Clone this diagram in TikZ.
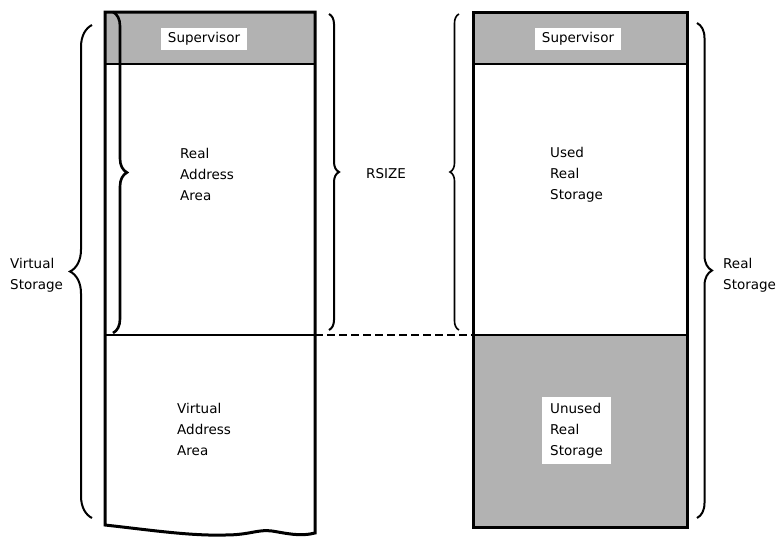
\documentclass[tikz,border=0pt]{standalone}
\usepackage{fontspec}
\setmainfont{DejaVu Sans}
\usetikzlibrary{decorations.pathreplacing}
\begin{document}
\begin{tikzpicture}[x=1pt,y=-1pt,
  box/.style={line width=3pt,line join=miter},
  divider/.style={line width=2.8pt},
  br/.style={decorate,decoration={brace,amplitude=#1,aspect=0.5},line width=2pt},
  lbl/.style={font=\fontsize{13.5}{21}\selectfont,align=left,inner sep=0pt,anchor=north west},
  sup/.style={font=\fontsize{13.5}{16}\selectfont,fill=white,inner xsep=7pt,inner ysep=4.5pt},
  shade/.style={fill=black!30},
  dashline/.style={line width=2.6pt,dash pattern=on 8pt off 4pt}
]
\useasboundingbox (0,0) rectangle (782,536);

% ---- left column (virtual storage)
\fill[shade] (105,12) rectangle (315,64);
\draw[box] (105,12) -- (315,12) -- (315,533)
  .. controls (300,537) and (285,533) .. (272,531)
  .. controls (258,529) and (250,535) .. (225,535)
  .. controls (190,536) and (150,530) .. (105,525) -- cycle;
\draw[divider] (105,64) -- (315,64);
\draw[divider] (105,335) -- (315,335);
\node[sup] (lsup) at (204,39) {Supervisor};

% ---- right column (real storage)
\fill[shade] (473,12) rectangle (687,64);
\fill[shade] (473,335) rectangle (687,527);
\draw[box] (473,12) rectangle (687,527);
\draw[divider] (473,64) -- (687,64);
\draw[divider] (473,335) -- (687,335);
\node[sup] (rsup) at (578,39) {Supervisor};

% ---- dashed boundary link
\coordinate (ldiv) at (315,335);
\coordinate (rdiv) at (473,335);
\draw[dashline] (ldiv) -- (rdiv);

% ---- braces
\draw[br=22pt] (92,518) -- (92,25);
\draw[br=14pt,line width=2.6pt] (113,12) -- (113,333);
\draw[br=10pt] (329,14) -- (329,330);
\draw[br=9pt,line width=1.6pt] (459,330) -- (459,14);
\draw[br=15pt] (697,23) -- (697,518);

% ---- labels
\node[lbl] (vs) at (10,258) {Virtual\\Storage};
\node[lbl] (rs) at (723,258) {Real\\Storage};
\node[font=\fontsize{13.5}{16}\selectfont] (rsize) at (386,174) {RSIZE};
\node[lbl] (raa) at (180,148) {Real\\Address\\Area};
\node[lbl] (urs) at (550,147) {Used\\Real\\Storage};
\node[lbl] (vaa) at (177,403) {Virtual\\Address\\Area};
\node[lbl,fill=white,inner xsep=8pt,inner ysep=6pt] (unused) at (542,397) {Unused\\Real\\Storage};
\end{tikzpicture}
\end{document}
